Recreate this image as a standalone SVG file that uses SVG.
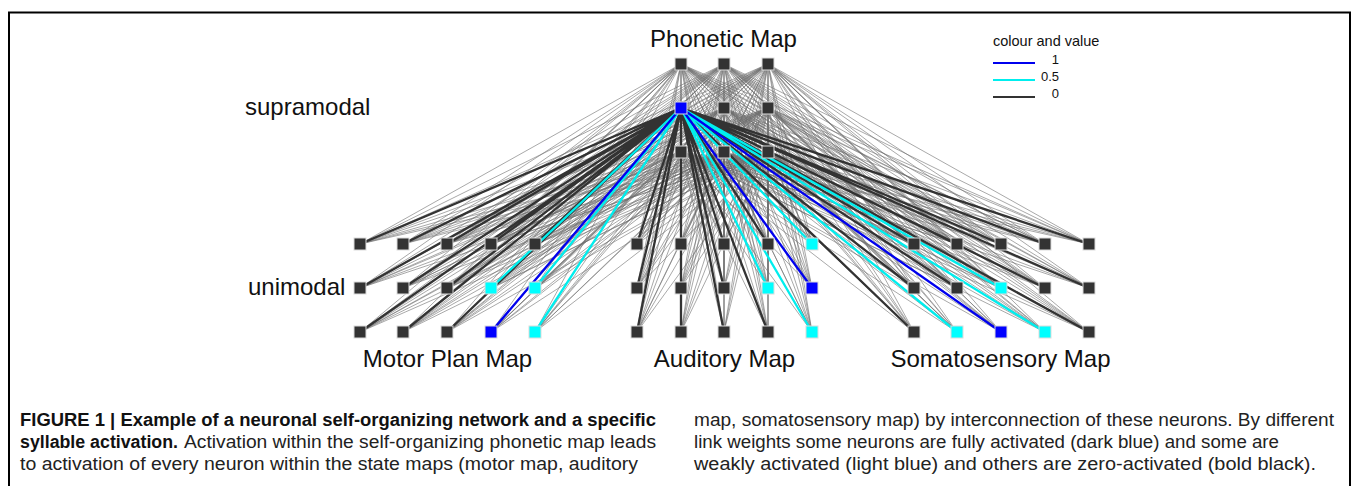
<svg xmlns="http://www.w3.org/2000/svg" width="1357" height="486" viewBox="0 0 1357 486">
<style>
.lbl{font-family:"Liberation Sans",Arial,sans-serif;font-size:24px;fill:#111}
.leg{font-family:"Liberation Sans",Arial,sans-serif;font-size:14.5px;fill:#111}
.legn{font-family:"Liberation Sans",Arial,sans-serif;font-size:13px;fill:#111;text-anchor:end}
.cap{font-family:"Liberation Sans",Arial,sans-serif;font-size:17.5px;fill:#222}
.capb{font-family:"Liberation Sans",Arial,sans-serif;font-size:17.5px;fill:#111;font-weight:bold}
.thin{fill:none;stroke:#6e6e6e;stroke-width:0.6}
.b0{fill:none;stroke:#333;stroke-width:2.3}
.b5{fill:none;stroke:#00eeee;stroke-width:2.3}
.b1{fill:none;stroke:#0000ee;stroke-width:2.3}
.n{fill:#333;stroke:#dcdcdc;stroke-width:1}
.nc{fill:#00ffff;stroke:#dcdcdc;stroke-width:1}
.nb{fill:#0000ff;stroke:#dcdcdc;stroke-width:1}
</style>
<rect x="0" y="0" width="1357" height="486" fill="#fff"/>
<path d="M9 486V12.5H1350V486" fill="none" stroke="#000" stroke-width="2"/>

<g id="connectors">
<path class="thin" d="M681 64L360 244M681 64L403 244M681 64L447 244M681 64L491 244M681 64L535 244M681 64L360 288M681 64L403 288M681 64L447 288M681 64L491 288M681 64L535 288M681 64L360 332M681 64L403 332M681 64L447 332M681 64L491 332M681 64L535 332M681 64L637 244M681 64L681 244M681 64L724 244M681 64L768 244M681 64L812 244M681 64L637 288M681 64L681 288M681 64L724 288M681 64L768 288M681 64L812 288M681 64L637 332M681 64L681 332M681 64L724 332M681 64L768 332M681 64L812 332M681 64L914 244M681 64L957 244M681 64L1001 244M681 64L1045 244M681 64L1089 244M681 64L914 288M681 64L957 288M681 64L1001 288M681 64L1045 288M681 64L1089 288M681 64L914 332M681 64L957 332M681 64L1001 332M681 64L1045 332M681 64L1089 332"/>
<path class="thin" d="M724 64L360 244M724 64L403 244M724 64L447 244M724 64L491 244M724 64L535 244M724 64L360 288M724 64L403 288M724 64L447 288M724 64L491 288M724 64L535 288M724 64L360 332M724 64L403 332M724 64L447 332M724 64L491 332M724 64L535 332M724 64L637 244M724 64L681 244M724 64L724 244M724 64L768 244M724 64L812 244M724 64L637 288M724 64L681 288M724 64L724 288M724 64L768 288M724 64L812 288M724 64L637 332M724 64L681 332M724 64L724 332M724 64L768 332M724 64L812 332M724 64L914 244M724 64L957 244M724 64L1001 244M724 64L1045 244M724 64L1089 244M724 64L914 288M724 64L957 288M724 64L1001 288M724 64L1045 288M724 64L1089 288M724 64L914 332M724 64L957 332M724 64L1001 332M724 64L1045 332M724 64L1089 332"/>
<path class="thin" d="M768 64L360 244M768 64L403 244M768 64L447 244M768 64L491 244M768 64L535 244M768 64L360 288M768 64L403 288M768 64L447 288M768 64L491 288M768 64L535 288M768 64L360 332M768 64L403 332M768 64L447 332M768 64L491 332M768 64L535 332M768 64L637 244M768 64L681 244M768 64L724 244M768 64L768 244M768 64L812 244M768 64L637 288M768 64L681 288M768 64L724 288M768 64L768 288M768 64L812 288M768 64L637 332M768 64L681 332M768 64L724 332M768 64L768 332M768 64L812 332M768 64L914 244M768 64L957 244M768 64L1001 244M768 64L1045 244M768 64L1089 244M768 64L914 288M768 64L957 288M768 64L1001 288M768 64L1045 288M768 64L1089 288M768 64L914 332M768 64L957 332M768 64L1001 332M768 64L1045 332M768 64L1089 332"/>
<path class="thin" d="M681 108L360 244M681 108L403 244M681 108L447 244M681 108L491 244M681 108L535 244M681 108L360 288M681 108L403 288M681 108L447 288M681 108L491 288M681 108L535 288M681 108L360 332M681 108L403 332M681 108L447 332M681 108L491 332M681 108L535 332M681 108L637 244M681 108L681 244M681 108L724 244M681 108L768 244M681 108L812 244M681 108L637 288M681 108L681 288M681 108L724 288M681 108L768 288M681 108L812 288M681 108L637 332M681 108L681 332M681 108L724 332M681 108L768 332M681 108L812 332M681 108L914 244M681 108L957 244M681 108L1001 244M681 108L1045 244M681 108L1089 244M681 108L914 288M681 108L957 288M681 108L1001 288M681 108L1045 288M681 108L1089 288M681 108L914 332M681 108L957 332M681 108L1001 332M681 108L1045 332M681 108L1089 332"/>
<path class="thin" d="M724 108L360 244M724 108L403 244M724 108L447 244M724 108L491 244M724 108L535 244M724 108L360 288M724 108L403 288M724 108L447 288M724 108L491 288M724 108L535 288M724 108L360 332M724 108L403 332M724 108L447 332M724 108L491 332M724 108L535 332M724 108L637 244M724 108L681 244M724 108L724 244M724 108L768 244M724 108L812 244M724 108L637 288M724 108L681 288M724 108L724 288M724 108L768 288M724 108L812 288M724 108L637 332M724 108L681 332M724 108L724 332M724 108L768 332M724 108L812 332M724 108L914 244M724 108L957 244M724 108L1001 244M724 108L1045 244M724 108L1089 244M724 108L914 288M724 108L957 288M724 108L1001 288M724 108L1045 288M724 108L1089 288M724 108L914 332M724 108L957 332M724 108L1001 332M724 108L1045 332M724 108L1089 332"/>
<path class="thin" d="M768 108L360 244M768 108L403 244M768 108L447 244M768 108L491 244M768 108L535 244M768 108L360 288M768 108L403 288M768 108L447 288M768 108L491 288M768 108L535 288M768 108L360 332M768 108L403 332M768 108L447 332M768 108L491 332M768 108L535 332M768 108L637 244M768 108L681 244M768 108L724 244M768 108L768 244M768 108L812 244M768 108L637 288M768 108L681 288M768 108L724 288M768 108L768 288M768 108L812 288M768 108L637 332M768 108L681 332M768 108L724 332M768 108L768 332M768 108L812 332M768 108L914 244M768 108L957 244M768 108L1001 244M768 108L1045 244M768 108L1089 244M768 108L914 288M768 108L957 288M768 108L1001 288M768 108L1045 288M768 108L1089 288M768 108L914 332M768 108L957 332M768 108L1001 332M768 108L1045 332M768 108L1089 332"/>
<path class="thin" d="M681 152L360 244M681 152L403 244M681 152L447 244M681 152L491 244M681 152L535 244M681 152L360 288M681 152L403 288M681 152L447 288M681 152L491 288M681 152L535 288M681 152L360 332M681 152L403 332M681 152L447 332M681 152L491 332M681 152L535 332M681 152L637 244M681 152L681 244M681 152L724 244M681 152L768 244M681 152L812 244M681 152L637 288M681 152L681 288M681 152L724 288M681 152L768 288M681 152L812 288M681 152L637 332M681 152L681 332M681 152L724 332M681 152L768 332M681 152L812 332M681 152L914 244M681 152L957 244M681 152L1001 244M681 152L1045 244M681 152L1089 244M681 152L914 288M681 152L957 288M681 152L1001 288M681 152L1045 288M681 152L1089 288M681 152L914 332M681 152L957 332M681 152L1001 332M681 152L1045 332M681 152L1089 332"/>
<path class="thin" d="M724 152L360 244M724 152L403 244M724 152L447 244M724 152L491 244M724 152L535 244M724 152L360 288M724 152L403 288M724 152L447 288M724 152L491 288M724 152L535 288M724 152L360 332M724 152L403 332M724 152L447 332M724 152L491 332M724 152L535 332M724 152L637 244M724 152L681 244M724 152L724 244M724 152L768 244M724 152L812 244M724 152L637 288M724 152L681 288M724 152L724 288M724 152L768 288M724 152L812 288M724 152L637 332M724 152L681 332M724 152L724 332M724 152L768 332M724 152L812 332M724 152L914 244M724 152L957 244M724 152L1001 244M724 152L1045 244M724 152L1089 244M724 152L914 288M724 152L957 288M724 152L1001 288M724 152L1045 288M724 152L1089 288M724 152L914 332M724 152L957 332M724 152L1001 332M724 152L1045 332M724 152L1089 332"/>
<path class="thin" d="M768 152L360 244M768 152L403 244M768 152L447 244M768 152L491 244M768 152L535 244M768 152L360 288M768 152L403 288M768 152L447 288M768 152L491 288M768 152L535 288M768 152L360 332M768 152L403 332M768 152L447 332M768 152L491 332M768 152L535 332M768 152L637 244M768 152L681 244M768 152L724 244M768 152L768 244M768 152L812 244M768 152L637 288M768 152L681 288M768 152L724 288M768 152L768 288M768 152L812 288M768 152L637 332M768 152L681 332M768 152L724 332M768 152L768 332M768 152L812 332M768 152L914 244M768 152L957 244M768 152L1001 244M768 152L1045 244M768 152L1089 244M768 152L914 288M768 152L957 288M768 152L1001 288M768 152L1045 288M768 152L1089 288M768 152L914 332M768 152L957 332M768 152L1001 332M768 152L1045 332M768 152L1089 332"/>
<path class="b0" d="M681 108L360 244M681 108L403 244M681 108L447 244M681 108L491 244M681 108L535 244M681 108L360 288M681 108L403 288M681 108L447 288M681 108L360 332M681 108L403 332M681 108L447 332M681 108L637 244M681 108L681 244M681 108L724 244M681 108L768 244M681 108L637 288M681 108L681 288M681 108L724 288M681 108L637 332M681 108L681 332M681 108L724 332M681 108L768 332M681 108L914 244M681 108L957 244M681 108L1001 244M681 108L1045 244M681 108L1089 244M681 108L914 288M681 108L957 288M681 108L1045 288M681 108L1089 288M681 108L914 332M681 108L1089 332"/>
<path class="b5" d="M681 108L491 288M681 108L535 288M681 108L535 332M681 108L812 244M681 108L768 288M681 108L812 332M681 108L1001 288M681 108L957 332M681 108L1045 332"/>
<path class="b1" d="M681 108L491 332M681 108L812 288M681 108L1001 332"/>
</g>

<g id="phonetic-map">
<g id="ph-1-1"><rect class="n" x="675" y="58" width="12" height="12"/></g>
<g id="ph-1-2"><rect class="n" x="718" y="58" width="12" height="12"/></g>
<g id="ph-1-3"><rect class="n" x="762" y="58" width="12" height="12"/></g>
<g id="ph-2-1"><rect class="nb" x="675" y="102" width="12" height="12"/></g>
<g id="ph-2-2"><rect class="n" x="718" y="102" width="12" height="12"/></g>
<g id="ph-2-3"><rect class="n" x="762" y="102" width="12" height="12"/></g>
<g id="ph-3-1"><rect class="n" x="675" y="146" width="12" height="12"/></g>
<g id="ph-3-2"><rect class="n" x="718" y="146" width="12" height="12"/></g>
<g id="ph-3-3"><rect class="n" x="762" y="146" width="12" height="12"/></g>
</g>

<g id="motor-map">
<g id="mo-1-1"><rect class="n" x="354" y="238" width="12" height="12"/></g>
<g id="mo-1-2"><rect class="n" x="397" y="238" width="12" height="12"/></g>
<g id="mo-1-3"><rect class="n" x="441" y="238" width="12" height="12"/></g>
<g id="mo-1-4"><rect class="n" x="485" y="238" width="12" height="12"/></g>
<g id="mo-1-5"><rect class="n" x="529" y="238" width="12" height="12"/></g>
<g id="mo-2-1"><rect class="n" x="354" y="282" width="12" height="12"/></g>
<g id="mo-2-2"><rect class="n" x="397" y="282" width="12" height="12"/></g>
<g id="mo-2-3"><rect class="n" x="441" y="282" width="12" height="12"/></g>
<g id="mo-2-4"><rect class="nc" x="485" y="282" width="12" height="12"/></g>
<g id="mo-2-5"><rect class="nc" x="529" y="282" width="12" height="12"/></g>
<g id="mo-3-1"><rect class="n" x="354" y="326" width="12" height="12"/></g>
<g id="mo-3-2"><rect class="n" x="397" y="326" width="12" height="12"/></g>
<g id="mo-3-3"><rect class="n" x="441" y="326" width="12" height="12"/></g>
<g id="mo-3-4"><rect class="nb" x="485" y="326" width="12" height="12"/></g>
<g id="mo-3-5"><rect class="nc" x="529" y="326" width="12" height="12"/></g>
</g>

<g id="auditory-map">
<g id="au-1-1"><rect class="n" x="631" y="238" width="12" height="12"/></g>
<g id="au-1-2"><rect class="n" x="675" y="238" width="12" height="12"/></g>
<g id="au-1-3"><rect class="n" x="718" y="238" width="12" height="12"/></g>
<g id="au-1-4"><rect class="n" x="762" y="238" width="12" height="12"/></g>
<g id="au-1-5"><rect class="nc" x="806" y="238" width="12" height="12"/></g>
<g id="au-2-1"><rect class="n" x="631" y="282" width="12" height="12"/></g>
<g id="au-2-2"><rect class="n" x="675" y="282" width="12" height="12"/></g>
<g id="au-2-3"><rect class="n" x="718" y="282" width="12" height="12"/></g>
<g id="au-2-4"><rect class="nc" x="762" y="282" width="12" height="12"/></g>
<g id="au-2-5"><rect class="nb" x="806" y="282" width="12" height="12"/></g>
<g id="au-3-1"><rect class="n" x="631" y="326" width="12" height="12"/></g>
<g id="au-3-2"><rect class="n" x="675" y="326" width="12" height="12"/></g>
<g id="au-3-3"><rect class="n" x="718" y="326" width="12" height="12"/></g>
<g id="au-3-4"><rect class="n" x="762" y="326" width="12" height="12"/></g>
<g id="au-3-5"><rect class="nc" x="806" y="326" width="12" height="12"/></g>
</g>

<g id="somatosensory-map">
<g id="so-1-1"><rect class="n" x="908" y="238" width="12" height="12"/></g>
<g id="so-1-2"><rect class="n" x="951" y="238" width="12" height="12"/></g>
<g id="so-1-3"><rect class="n" x="995" y="238" width="12" height="12"/></g>
<g id="so-1-4"><rect class="n" x="1039" y="238" width="12" height="12"/></g>
<g id="so-1-5"><rect class="n" x="1083" y="238" width="12" height="12"/></g>
<g id="so-2-1"><rect class="n" x="908" y="282" width="12" height="12"/></g>
<g id="so-2-2"><rect class="n" x="951" y="282" width="12" height="12"/></g>
<g id="so-2-3"><rect class="nc" x="995" y="282" width="12" height="12"/></g>
<g id="so-2-4"><rect class="n" x="1039" y="282" width="12" height="12"/></g>
<g id="so-2-5"><rect class="n" x="1083" y="282" width="12" height="12"/></g>
<g id="so-3-1"><rect class="n" x="908" y="326" width="12" height="12"/></g>
<g id="so-3-2"><rect class="nc" x="951" y="326" width="12" height="12"/></g>
<g id="so-3-3"><rect class="nb" x="995" y="326" width="12" height="12"/></g>
<g id="so-3-4"><rect class="nc" x="1039" y="326" width="12" height="12"/></g>
<g id="so-3-5"><rect class="n" x="1083" y="326" width="12" height="12"/></g>
</g>

<g id="labels">
<text class="lbl" x="723.5" y="47" text-anchor="middle">Phonetic Map</text>
<text class="lbl" x="245" y="115">supramodal</text>
<text class="lbl" x="248" y="295">unimodal</text>
<text class="lbl" x="447.5" y="367" text-anchor="middle">Motor Plan Map</text>
<text class="lbl" x="724.5" y="367" text-anchor="middle">Auditory Map</text>
<text class="lbl" x="1000.5" y="367" text-anchor="middle">Somatosensory Map</text>
</g>

<g id="legend">
<text class="leg" x="993" y="46">colour and value</text>
<line x1="993" y1="63" x2="1035" y2="63" stroke="#0000ee" stroke-width="2"/>
<line x1="993" y1="80" x2="1035" y2="80" stroke="#00eeee" stroke-width="2"/>
<line x1="993" y1="97" x2="1035" y2="97" stroke="#333" stroke-width="2"/>
<text class="legn" x="1059" y="64">1</text>
<text class="legn" x="1059" y="81">0.5</text>
<text class="legn" x="1059" y="98">0</text>
</g>

<g id="caption">
<text class="capb" x="20" y="426" textLength="636" lengthAdjust="spacingAndGlyphs">FIGURE 1 | Example of a neuronal self-organizing network and a specific</text>
<text class="capb" x="20" y="448" textLength="158" lengthAdjust="spacingAndGlyphs">syllable activation.</text>
<text class="cap" x="184" y="448" textLength="472" lengthAdjust="spacingAndGlyphs">Activation within the self-organizing phonetic map leads</text>
<text class="cap" x="20" y="470" textLength="618" lengthAdjust="spacingAndGlyphs">to activation of every neuron within the state maps (motor map, auditory</text>
<text class="cap" x="694" y="426" textLength="640" lengthAdjust="spacingAndGlyphs">map, somatosensory map) by interconnection of these neurons. By different</text>
<text class="cap" x="694" y="448" textLength="585" lengthAdjust="spacingAndGlyphs">link weights some neurons are fully activated (dark blue) and some are</text>
<text class="cap" x="694" y="470" textLength="622" lengthAdjust="spacingAndGlyphs">weakly activated (light blue) and others are zero-activated (bold black).</text>
</g>
</svg>
